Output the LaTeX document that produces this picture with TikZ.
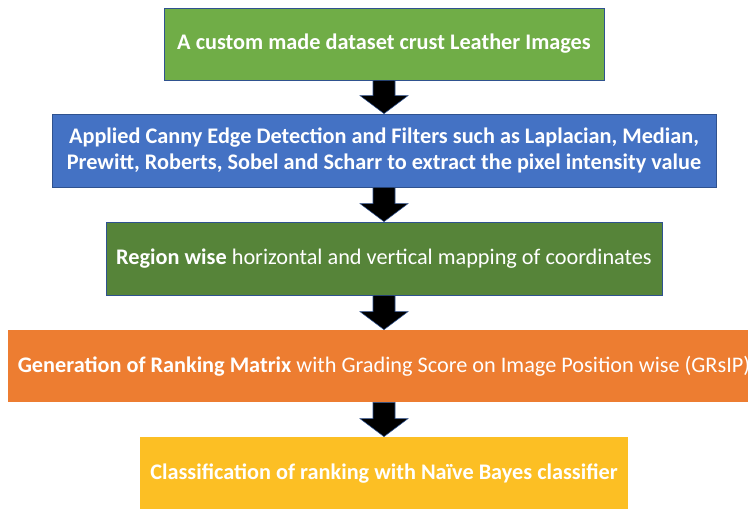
\documentclass[tikz,border=0pt]{standalone}
\usepackage{fontspec}
\setmainfont{Carlito}
\usetikzlibrary{calc}
\definecolor{cGreen}{HTML}{70AD47}
\definecolor{cBlue}{HTML}{4472C4}
\definecolor{cDark}{HTML}{568439}
\definecolor{cOrange}{HTML}{ED7D31}
\definecolor{cYellow}{HTML}{FCBF24}
\definecolor{cEdge}{HTML}{2F528F}
\tikzset{
  stepbox/.style={rectangle, draw=cEdge, line width=0.6pt, text=white, align=center,
    inner sep=0pt, font=\fontsize{16.7}{19.6}\selectfont},
  blockarrow/.style={fill=black, draw=cEdge, line width=0.4pt, line join=miter}
}
\begin{document}
\begin{tikzpicture}[x=0.75pt, y=-0.75pt]
\useasboundingbox (0,0) rectangle (748,508);
\clip (0,0) rectangle (748,508);
\fill[white] (0,0) rectangle (748,508);
\node[stepbox, fill=cGreen, minimum width=440*0.75pt, minimum height=72*0.75pt] (b1) at (384,44)
  {\bfseries A custom made dataset crust Leather Images};
\node[stepbox, fill=cBlue, minimum width=664*0.75pt, minimum height=73*0.75pt] (b2) at (384,150.5)
  {\bfseries Applied Canny Edge Detection and Filters such as Laplacian, Median,\\
   \bfseries Prewitt, Roberts, Sobel and Scharr to extract the pixel intensity value};
\node[stepbox, fill=cDark, minimum width=556*0.75pt, minimum height=73*0.75pt] (b3) at (384,258.5)
  {\textbf{Region wise} horizontal and vertical mapping of coordinates};
\node[stepbox, draw=none, fill=cOrange, minimum width=752*0.75pt, minimum height=72*0.75pt] (b4) at (384,366)
  {\textbf{Generation of Ranking Matrix} with Grading Score on Image Position wise (GRsIP)};
\node[stepbox, draw=none, fill=cYellow, minimum width=488*0.75pt, minimum height=74*0.75pt] (b5) at (384,474)
  {\bfseries Classification of ranking with Naïve Bayes classifier};
\foreach \a/\b in {b1/b2, b2/b3, b3/b4, b4/b5}{
  \draw[blockarrow] ($(\a.south)+(-11,0)$) -- ($(\a.south)+(11,0)$) -- ($(\b.north)+(11,-18)$)
    -- ($(\b.north)+(24,-18)$) -- (\b.north) -- ($(\b.north)+(-24,-18)$)
    -- ($(\b.north)+(-11,-18)$) -- cycle;
}
\end{tikzpicture}
\end{document}
